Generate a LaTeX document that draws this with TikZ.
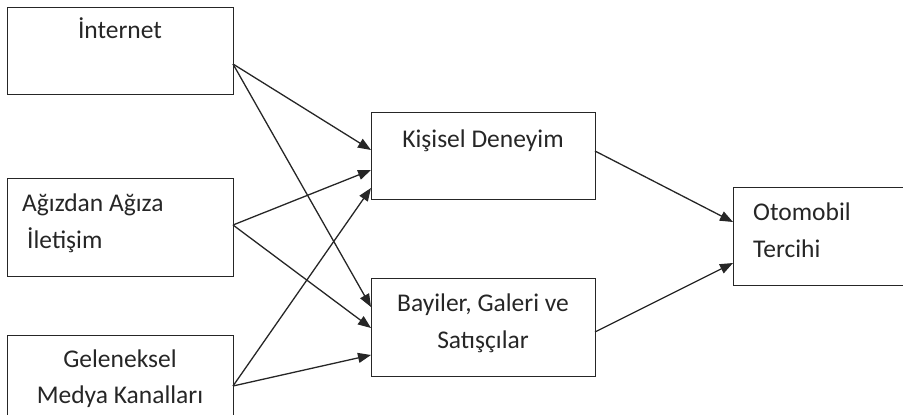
\documentclass[tikz,border=0pt]{standalone}
\usepackage{fontspec}
\setmainfont{Carlito}
\usetikzlibrary{arrows.meta}
\begin{document}
\begin{tikzpicture}[x=1pt,y=-1pt,
  box/.style={draw=black!85,line width=1.4pt},
  lbl/.style={inner sep=0pt,font=\fontsize{25.5}{30}\selectfont,text=black!85},
  conn/.style={draw=black!85,line width=1.3pt,-{Triangle[length=13pt,width=10pt]}}]
\useasboundingbox (0,0) rectangle (903,415);
% boxes
\node[box,anchor=north west,minimum width=226pt,minimum height=87pt,inner sep=0pt] (inet) at (7,7) {};
\node[box,anchor=north west,minimum width=226pt,minimum height=98pt,inner sep=0pt] (agiz) at (7,178) {};
\node[box,anchor=north west,minimum width=226pt,minimum height=90pt,inner sep=0pt] (gel) at (7,335) {};
\node[box,anchor=north west,minimum width=224pt,minimum height=87pt,inner sep=0pt] (kis) at (371,112) {};
\node[box,anchor=north west,minimum width=224pt,minimum height=98pt,inner sep=0pt] (bay) at (371,278) {};
\node[box,anchor=north west,minimum width=175pt,minimum height=98pt,inner sep=0pt] (oto) at (733,187) {};
% texts
\node[lbl,anchor=base] (tinet) at (120,38) {İnternet};
\node[lbl,anchor=base west] (tagiz1) at (22,211) {Ağızdan Ağıza};
\node[lbl,anchor=base west] (tagiz2) at (27,248) {İletişim};
\node[lbl,anchor=base] (tgel1) at (120,367) {Geleneksel};
\node[lbl,anchor=base] (tgel2) at (120,403) {Medya Kanalları};
\node[lbl,anchor=base] (tkis) at (483,147) {Kişisel Deneyim};
\node[lbl,anchor=base] (tbay1) at (483,311) {Bayiler, Galeri ve};
\node[lbl,anchor=base] (tbay2) at (483,348) {Satışçılar};
\node[lbl,anchor=base west] (toto1) at (753,220) {Otomobil};
\node[lbl,anchor=base west] (toto2) at (753,257) {Tercihi};
% connector end points
\coordinate (iS) at (233,64);
\coordinate (aS) at (233,225);
\coordinate (gS) at (233,386);
\coordinate (kA) at (371,150);
\coordinate (kB) at (371,170);
\coordinate (kC) at (371,188);
\coordinate (bA) at (371,307);
\coordinate (bB) at (371,328);
\coordinate (bC) at (371,355);
\coordinate (kS) at (595,151);
\coordinate (bS) at (595,332);
\coordinate (oA) at (733,222);
\coordinate (oB) at (733,263);
% connectors
\draw[conn] (iS) -- (kA);
\draw[conn] (iS) -- (bA);
\draw[conn] (aS) -- (kB);
\draw[conn] (aS) -- (bB);
\draw[conn] (gS) -- (kC);
\draw[conn] (gS) -- (bC);
\draw[conn] (kS) -- (oA);
\draw[conn] (bS) -- (oB);
\end{tikzpicture}
\end{document}
